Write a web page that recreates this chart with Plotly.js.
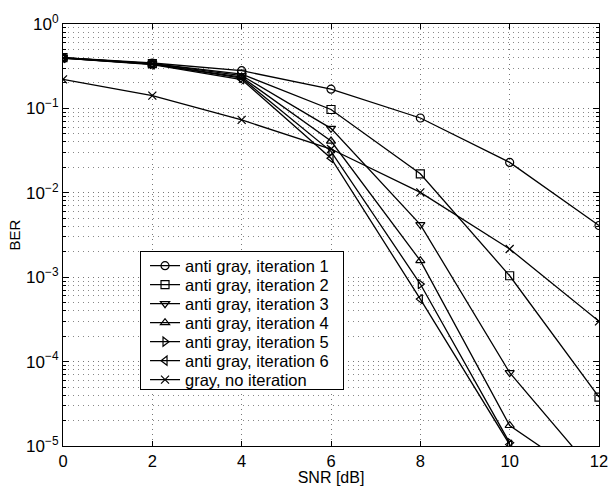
<!DOCTYPE html>
<html>
<head>
<meta charset="utf-8">
<script src="https://cdn.plot.ly/plotly-3.0.1.min.js"></script>
<style>html,body{margin:0;padding:0;background:#fff;}#chart{width:608px;height:486px;}</style>
</head>
<body>
<div id="chart"></div>
<script>
const snr = [0, 2, 4, 6, 8, 10, 12];
const iter1 = [0.40, 0.345, 0.28, 0.169, 0.077, 0.0229, 0.0041];
const iter2 = [0.40, 0.34, 0.255, 0.097, 0.0168, 0.00104, 3.8e-5];
const iter3 = [0.40, 0.34, 0.245, 0.058, 0.0042, 7.4e-5, 4.2e-6];
const iter4 = [0.395, 0.335, 0.235, 0.041, 0.00157, 1.75e-5, 3.3e-6];
const iter5 = [0.395, 0.335, 0.228, 0.031, 0.00083, 1.09e-5, null];
const iter6 = [0.395, 0.33, 0.22, 0.0257, 0.00055, 1.04e-5, null];
const grayNoIter = [0.221, 0.142, 0.073, 0.033, 0.0101, 0.00216, 0.0003];
const names = ['anti gray, iteration 1','anti gray, iteration 2','anti gray, iteration 3','anti gray, iteration 4','anti gray, iteration 5','anti gray, iteration 6','gray, no iteration'];
const symbols = ['circle-open','square-open','triangle-down-open','triangle-up-open','triangle-right-open','triangle-left-open','x-thin-open'];
const yTickVals = [1e-5, 1e-4, 1e-3, 1e-2, 1e-1, 1];
const yTickText = ['10<sup>−5</sup>','10<sup>−4</sup>','10<sup>−3</sup>','10<sup>−2</sup>','10<sup>−1</sup>','10<sup>0</sup>'];
const xTickVals = [0, 2, 4, 6, 8, 10, 12];

const series = [iter1, iter2, iter3, iter4, iter5, iter6, grayNoIter];
const traces = series.map((ys, i) => ({
  x: snr, y: ys, name: names[i], type: 'scatter', mode: 'lines+markers',
  line: {color: 'black', width: 1.3},
  marker: {symbol: symbols[i], size: 8, color: 'black', line: {color: 'black', width: 1.2}},
  cliponaxis: true
}));

const font = {family: 'Liberation Sans, Arial, Helvetica, sans-serif', color: 'black'};
const gridDash = '1px,4px';
const layout = {
  width: 608, height: 486,
  margin: {l: 63, r: 9, t: 24, b: 39.5},
  paper_bgcolor: 'white', plot_bgcolor: 'white',
  font: Object.assign({size: 16}, font),
  showlegend: true,
  legend: {
    x: 0.1437, y: 0.461, xanchor: 'left', yanchor: 'top',
    bgcolor: 'white', bordercolor: 'black', borderwidth: 1,
    font: Object.assign({size: 16.5}, font)
  },
  xaxis: {
    range: [0, 12], tickvals: xTickVals, ticktext: xTickVals.map(String),
    showline: true, linecolor: 'black', linewidth: 1, mirror: 'ticks',
    ticks: 'inside', ticklen: 5, tickcolor: 'black',
    showgrid: true, gridcolor: '#777', griddash: gridDash, gridwidth: 1,
    zeroline: false, ticklabeloverflow: 'allow',
    tickfont: Object.assign({size: 16.5}, font),
    title: {text: 'SNR [dB]', font: Object.assign({size: 16}, font), standoff: 4}
  },
  yaxis: {
    type: 'log', range: [-5, 0], tickvals: yTickVals, ticktext: yTickText,
    showline: true, linecolor: 'black', linewidth: 1, mirror: 'ticks',
    ticks: 'inside', ticklen: 6, tickcolor: 'black',
    showgrid: true, gridcolor: '#777', griddash: gridDash, gridwidth: 1,
    zeroline: false, ticklabeloverflow: 'allow',
    tickfont: Object.assign({size: 17}, font),
    minor: {dtick: 'D1', showgrid: true, gridcolor: '#888', griddash: gridDash, gridwidth: 1, ticks: 'inside', ticklen: 3, tickcolor: 'black'},
    title: {text: 'BER', font: Object.assign({size: 15}, font), standoff: 1}
  }
};
Plotly.newPlot('chart', traces, layout, {displayModeBar: false, staticPlot: true}).then(function (gd) {
  // tighten legend rows to the reference's 19px spacing and box size
  const leg = gd.querySelector('.legend');
  if (!leg) return;
  const items = leg.querySelectorAll('.traces');
  const rowGap = 19, boxW = 203, boxH = 138, shiftX = 4, shiftY = -4;
  const parse = el => {
    const m = /translate\(\s*([-\d.]+)[ ,]+([-\d.]+)/.exec(el.getAttribute('transform') || '');
    return m ? [parseFloat(m[1]), parseFloat(m[2])] : [0, 0];
  };
  if (items.length < 2) return;
  const first = parse(items[0]);
  items.forEach((el, i) => {
    const p = parse(el);
    el.setAttribute('transform', 'translate(' + (p[0] + shiftX) + ',' + (first[1] + shiftY + i * rowGap) + ')');
  });
  const bg = leg.querySelector('rect.bg');
  if (bg) {
    bg.setAttribute('height', boxH);
    bg.setAttribute('width', boxW);
  }
  leg.querySelectorAll('clipPath rect').forEach(r => {
    r.setAttribute('height', boxH + 2);
    r.setAttribute('width', boxW + 2);
  });
});
</script>
</body>
</html>
